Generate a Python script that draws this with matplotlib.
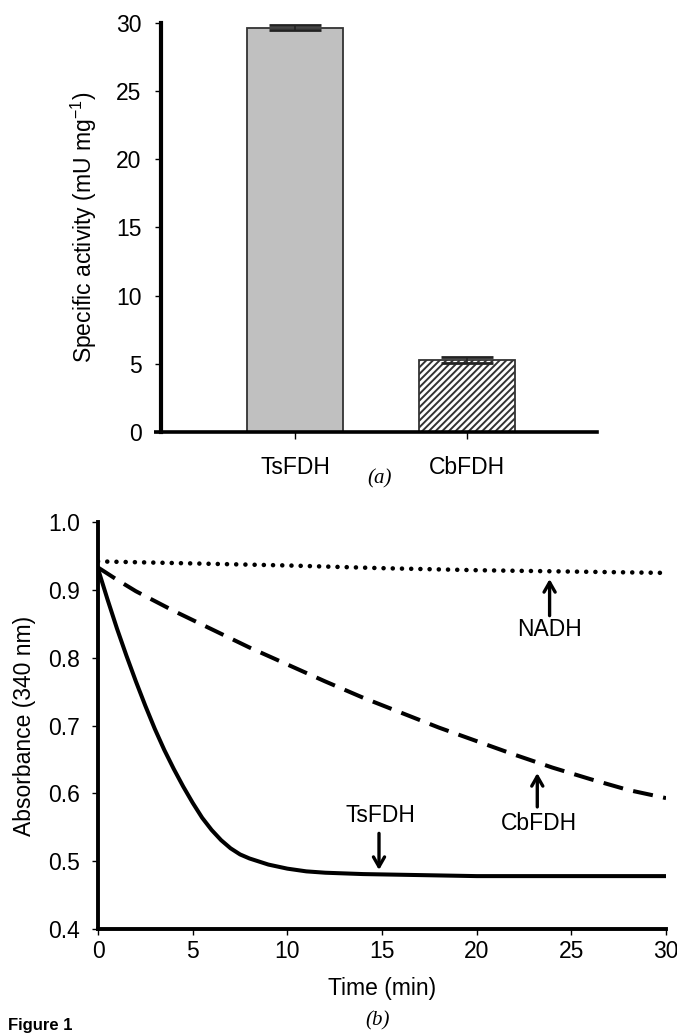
import numpy as np
import matplotlib
matplotlib.use('Agg')
import matplotlib.pyplot as plt

plt.rcParams['font.family'] = ['Liberation Sans', 'DejaVu Sans']
plt.rcParams['mathtext.fontset'] = 'custom'
plt.rcParams['mathtext.rm'] = 'Liberation Sans'
plt.rcParams['mathtext.default'] = 'regular'
plt.rcParams['hatch.linewidth'] = 1.4

FS = 16.5

# (a) specific activity
enzymes = ['TsFDH', 'CbFDH']
activity = [29.65, 5.25]
activity_err = [0.2, 0.22]

# (b) absorbance traces
t_ts = [0, 0.5, 1, 1.5, 2, 2.5, 3, 3.5, 4, 4.5, 5, 5.5, 6, 6.5, 7, 7.5, 8, 9, 10, 11, 12, 14, 16, 18, 20, 25, 30]
abs_ts = [0.931, 0.886, 0.843, 0.803, 0.765, 0.729, 0.695, 0.664, 0.636, 0.610, 0.586, 0.564, 0.546, 0.531,
          0.519, 0.510, 0.504, 0.495, 0.489, 0.485, 0.483, 0.481, 0.480, 0.479, 0.478, 0.478, 0.478]
t_cb = [0, 1, 2, 4, 6, 8, 10, 12, 14, 16, 18, 20, 22, 24, 26, 28, 30]
abs_cb = [0.933, 0.915, 0.898, 0.869, 0.842, 0.815, 0.790, 0.765, 0.741, 0.719, 0.697, 0.677, 0.657,
          0.638, 0.621, 0.605, 0.593]
t_nadh = [0, 5, 10, 15, 20, 25, 30]
abs_nadh = [0.942, 0.939, 0.936, 0.932, 0.929, 0.927, 0.925]

fig = plt.figure(figsize=(6.77, 10.35), dpi=100)

# ---- panel (a) ----
ax1 = fig.add_axes([0.2378, 0.5826, 0.6440, 0.3952])
x = np.arange(len(enzymes))
ax1.bar(x, activity, width=0.558, color=['#c0c0c0', 'white'], edgecolor='#333333',
        linewidth=1.3, hatch=['', '/////'], zorder=2)
ax1.errorbar(x, activity, yerr=activity_err, fmt='none', ecolor='#222222',
             elinewidth=1.2, capsize=19, capthick=2.0, zorder=3)
ax1.set_xlim(-0.778, 1.753)
ax1.set_ylim(0, 30)
ax1.set_yticks(range(0, 31, 5))
ax1.set_xticks(x)
ax1.set_xticklabels(enzymes)
ax1.set_ylabel('Specific activity (mU mg$^{-1}$)', fontsize=FS, labelpad=12)
for s in ['top', 'right']:
    ax1.spines[s].set_visible(False)
ax1.spines['left'].set_linewidth(3)
ax1.spines['bottom'].set_linewidth(2.6)
ax1.tick_params(axis='y', labelsize=FS, length=4, width=1, pad=10)
ax1.tick_params(axis='x', labelsize=FS, length=5, width=1, pad=12)
# axis line runs a little past the y axis on the left
ax1.plot([-0.82, -0.778], [0, 0], color='black', lw=2.6, clip_on=False, solid_capstyle='butt')

fig.text(0.561, 0.537, '(a)', fontsize=15, family='Liberation Serif', style='italic',
         ha='center', va='center')

# ---- panel (b) ----
ax2 = fig.add_axes([0.1448, 0.1024, 0.8390, 0.3932])
ax2.plot(t_ts, abs_ts, color='black', lw=2.9, solid_capstyle='round', solid_joinstyle='round')
ax2.plot(t_cb, abs_cb, color='black', lw=2.9, dashes=(5, 2.6))
ax2.plot(t_nadh, abs_nadh, color='black', lw=3.3, dashes=(0.01, 2.0),
         dash_capstyle='round')
ax2.set_xlim(0, 30)
ax2.set_ylim(0.4, 1.0)
ax2.set_xticks(range(0, 31, 5))
ax2.set_yticks(np.arange(0.4, 1.01, 0.1))
ax2.set_yticklabels(['0.4', '0.5', '0.6', '0.7', '0.8', '0.9', '1.0'])
ax2.set_xlabel('Time (min)', fontsize=FS, labelpad=10)
ax2.set_ylabel('Absorbance (340 nm)', fontsize=FS, labelpad=9)
for s in ['top', 'right']:
    ax2.spines[s].set_visible(False)
ax2.spines['left'].set_linewidth(2.8)
ax2.spines['bottom'].set_linewidth(2.8)
ax2.tick_params(axis='y', labelsize=FS, length=4, width=1, pad=9)
ax2.tick_params(axis='x', labelsize=FS, length=4, width=1, pad=4)

arrow = dict(arrowstyle='->,head_length=0.7,head_width=0.4', lw=2.4, color='black',
             shrinkA=0, shrinkB=0)
ax2.annotate('', xy=(23.85, 0.916), xytext=(23.85, 0.862), arrowprops=arrow)
ax2.text(23.85, 0.841, 'NADH', fontsize=FS, ha='center', va='center')
ax2.annotate('', xy=(23.2, 0.630), xytext=(23.2, 0.580), arrowprops=arrow)
ax2.text(23.3, 0.556, 'CbFDH', fontsize=FS, ha='center', va='center')
ax2.annotate('', xy=(14.84, 0.487), xytext=(14.84, 0.541), arrowprops=arrow)
ax2.text(14.9, 0.568, 'TsFDH', fontsize=FS, ha='center', va='center')

fig.text(0.557, 0.014, '(b)', fontsize=15, family='Liberation Serif', style='italic',
         ha='center', va='center')
fig.text(0.012, 0.002, 'Figure 1', fontsize=12, fontweight='bold', ha='left', va='bottom')

fig.savefig('out.png', dpi=100)
